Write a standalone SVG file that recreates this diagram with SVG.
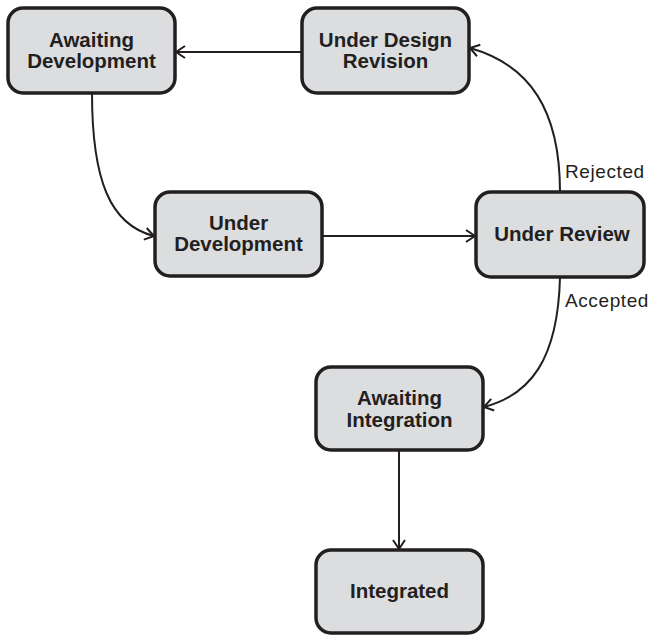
<svg xmlns="http://www.w3.org/2000/svg" width="652" height="635" viewBox="0 0 652 635">
<style>
.box{fill:#dcdddf;stroke:#231f20;stroke-width:3.5}
.t{font-family:"Liberation Sans",Arial,sans-serif;font-weight:bold;font-size:20.5px;fill:#231f20;text-anchor:middle}
.lbl{font-family:"Liberation Sans",Arial,sans-serif;font-size:19px;letter-spacing:0.6px;fill:#231f20}
.c{fill:none;stroke:#231f20;stroke-width:2;marker-end:url(#arr)}
</style>
<defs>
<marker id="arr" markerUnits="userSpaceOnUse" markerWidth="16" markerHeight="16" viewBox="-12 -8 16 16" refX="0" refY="0" orient="auto">
<path d="M-9,-6 L0,0 L-9,6" fill="none" stroke="#231f20" stroke-width="2"/>
</marker>
</defs>
<rect width="652" height="635" fill="#fff"/>
<g id="connectors">
<path class="c" d="M302,52 L176,52"/>
<path class="c" d="M92,93 C92,180 110,225 154,236"/>
<path class="c" d="M322,236 L475,236"/>
<path class="c" d="M560,192 C560,110 530,65 470,48"/>
<path class="c" d="M560,277 C558,360 530,395 484,407"/>
<path class="c" d="M399,449 L399,549"/>
<text class="lbl" x="565" y="178">Rejected</text>
<text class="lbl" x="565" y="307">Accepted</text>
</g>
<g id="awaiting-development">
<rect class="box" x="8" y="8" width="167" height="85" rx="15"/>
<text class="t" x="91.5" y="46.5">Awaiting</text>
<text class="t" x="91.5" y="67.5">Development</text>
</g>
<g id="under-design-revision">
<rect class="box" x="302" y="8" width="167" height="85" rx="15"/>
<text class="t" x="385.5" y="46.5">Under Design</text>
<text class="t" x="385.5" y="67.5">Revision</text>
</g>
<g id="under-development">
<rect class="box" x="155" y="192" width="167" height="84" rx="15"/>
<text class="t" x="238.5" y="229.5">Under</text>
<text class="t" x="238.5" y="251">Development</text>
</g>
<g id="under-review">
<rect class="box" x="476" y="192" width="168" height="85" rx="15"/>
<text class="t" x="562" y="241">Under Review</text>
</g>
<g id="awaiting-integration">
<rect class="box" x="316" y="367" width="167" height="83" rx="15"/>
<text class="t" x="399.5" y="405">Awaiting</text>
<text class="t" x="399.5" y="426.5">Integration</text>
</g>
<g id="integrated">
<rect class="box" x="316" y="550" width="167" height="83" rx="15"/>
<text class="t" x="399.5" y="598">Integrated</text>
</g>
</svg>
